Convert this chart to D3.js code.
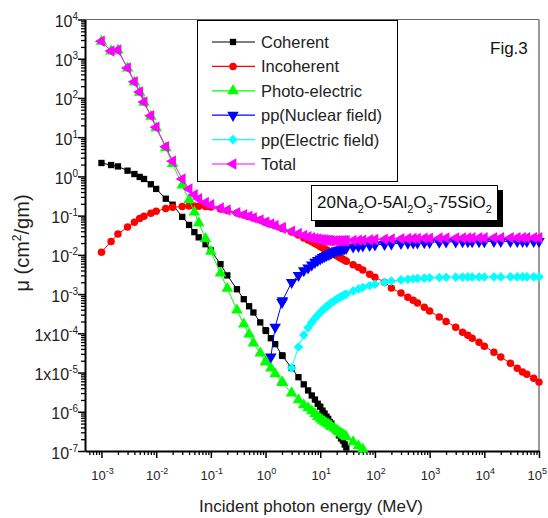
<!DOCTYPE html>
<html>
<head>
<meta charset="utf-8">
<script src="https://cdn.jsdelivr.net/npm/d3@7"></script>
<style>
  body { margin: 0; background: #fff; }
  svg { font-family: "Liberation Sans", Arial, sans-serif; }
</style>
</head>
<body>
<svg id="chart" width="548" height="518"></svg>
<script>
// photon energies (MeV)
const energy = [1e-3, 1.5e-3, 2e-3, 3e-3, 4e-3, 5e-3, 6e-3, 8e-3, 1e-2, 1.5e-2,
  2e-2, 3e-2, 4e-2, 5e-2, 6e-2, 8e-2, 0.1, 0.15, 0.2, 0.3,
  0.4, 0.5, 0.6, 0.8, 1, 1.022, 1.25, 1.5, 2, 2.044,
  3, 4, 5, 6, 7, 8, 9, 10, 11, 12,
  13, 14, 15, 16, 18, 20, 22, 24, 26, 28,
  30, 40, 50, 60, 80, 100, 150, 200, 300, 400,
  500, 600, 800, 1000, 1500, 2000, 3000, 4000, 5000, 6000,
  8000, 1e4, 1.5e4, 2e4, 3e4, 4e4, 5e4, 6e4, 8e4, 1e5];

const coherent = [2.2, 1.95, 1.8, 1.4, 1.15, 0.97, 0.86, 0.63, 0.48, 0.27,
  0.19, 0.093, 0.058, 0.038, 0.028, 0.0187, 0.013, 0.0058, 0.0030, 0.00133,
  7.4e-4, 4.9e-4, 3.4e-4, 1.9e-4, 1.2e-4, 1.15e-4, 7.5e-5, 5.3e-5, 2.75e-5, 2.65e-5,
  1.3e-5, 7.6e-6, 5.0e-6, 3.5e-6, 2.6e-6, 2.05e-6, 1.6e-6, 1.35e-6, 1.07e-6, 9e-7,
  7.5e-7, 6.6e-7, 5.5e-7, 5.0e-7, 3.8e-7, 3.2e-7, 2.5e-7, 2.1e-7, 1.85e-7, 1.47e-7,
  1.23e-7];

const incoherent = [0.0117, 0.022, 0.034, 0.051, 0.068, 0.085, 0.097, 0.115, 0.13, 0.152,
  0.163, 0.172, 0.175, 0.175, 0.174, 0.170, 0.165, 0.148, 0.135, 0.117,
  0.104, 0.095, 0.088, 0.077, 0.068, 0.067, 0.061, 0.056, 0.048, 0.047,
  0.038, 0.032, 0.027, 0.024, 0.0215, 0.0195, 0.0178, 0.0163, 0.0152, 0.0142,
  0.0133, 0.0125, 0.0118, 0.0112, 0.0102, 0.0095, 0.0088, 0.0082, 0.0077, 0.0073,
  0.0069, 0.0056, 0.0048, 0.0041, 0.0032, 0.0027, 0.0020, 0.00142, 0.00106, 0.00083,
  0.00070, 0.00059, 0.00046, 0.00037, 0.00026, 0.00020, 1.43e-4, 1.07e-4, 8.9e-5, 7.5e-5,
  5.9e-5, 4.7e-5, 3.3e-5, 2.5e-5, 1.73e-5, 1.29e-5, 1.03e-5, 9.0e-6, 7.2e-6, 5.7e-6];

const photoElectric = [2750, 1570, 1650, 575, 253, 138, 77, 34, 17.3, 5.3,
  2.1, 0.60, 0.25, 0.123, 0.065, 0.026, 0.0123, 0.0034, 0.0014, 3.9e-4,
  1.7e-4, 9.5e-5, 5.6e-5, 3.1e-5, 1.9e-5, 1.85e-5, 1.3e-5, 9.2e-6, 5.8e-6, 5.5e-6,
  3.0e-6, 2.0e-6, 1.5e-6, 1.25e-6, 1.05e-6, 9e-7, 7.5e-7, 6.6e-7, 6.0e-7, 5.5e-7,
  5.1e-7, 4.8e-7, 4.5e-7, 4.2e-7, 3.8e-7, 3.4e-7, 3.1e-7, 2.85e-7, 2.65e-7, 2.45e-7,
  2.3e-7, 1.7e-7, 1.35e-7, 1.12e-7];

const ppNuclear = [null, null, null, null, null, null, null, null, null, null,
  null, null, null, null, null, null, null, null, null, null,
  null, null, null, null, null, null, 2.5e-5, 1.45e-4, 6.2e-4, 6.8e-4,
  2.0e-3, 3.0e-3, 4.0e-3, 4.7e-3, 5.6e-3, 6.5e-3, 7.3e-3, 7.9e-3, 8.6e-3, 9.2e-3,
  9.7e-3, 1.03e-2, 1.06e-2, 1.12e-2, 1.2e-2, 1.28e-2, 1.32e-2, 1.36e-2, 1.4e-2, 1.45e-2,
  1.5e-2, 1.6e-2, 1.65e-2, 1.7e-2, 1.76e-2, 1.8e-2, 1.86e-2, 1.9e-2, 1.97e-2, 2.0e-2,
  2.02e-2, 2.04e-2, 2.07e-2, 2.09e-2, 2.12e-2, 2.14e-2, 2.16e-2, 2.17e-2, 2.18e-2, 2.18e-2,
  2.19e-2, 2.19e-2, 2.2e-2, 2.2e-2, 2.2e-2, 2.21e-2, 2.21e-2, 2.21e-2, 2.21e-2, 2.21e-2];

const ppElectric = [null, null, null, null, null, null, null, null, null, null,
  null, null, null, null, null, null, null, null, null, null,
  null, null, null, null, null, null, null, null, null, null,
  1.3e-5, 4.5e-5, 9e-5, 1.4e-4, 1.9e-4, 2.4e-4, 2.9e-4, 3.4e-4, 3.9e-4, 4.3e-4,
  4.8e-4, 5.2e-4, 5.6e-4, 6.0e-4, 6.7e-4, 7.4e-4, 8.0e-4, 8.6e-4, 9.1e-4, 9.6e-4,
  1.0e-3, 1.2e-3, 1.35e-3, 1.47e-3, 1.65e-3, 1.78e-3, 2.0e-3, 2.15e-3, 2.3e-3, 2.4e-3,
  2.45e-3, 2.5e-3, 2.55e-3, 2.6e-3, 2.65e-3, 2.68e-3, 2.7e-3, 2.71e-3, 2.72e-3, 2.72e-3,
  2.73e-3, 2.73e-3, 2.74e-3, 2.74e-3, 2.75e-3, 2.75e-3, 2.75e-3, 2.75e-3, 2.75e-3, 2.75e-3];

const total = [2800, 1580, 1660, 580, 257, 141, 79, 35, 18, 5.7,
  2.45, 0.86, 0.48, 0.34, 0.27, 0.215, 0.19, 0.157, 0.139, 0.118,
  0.105, 0.096, 0.088, 0.077, 0.068, 0.067, 0.061, 0.056, 0.049, 0.048,
  0.040, 0.035, 0.031, 0.0288, 0.0272, 0.026, 0.0252, 0.0245, 0.0241, 0.0238,
  0.0235, 0.0233, 0.0231, 0.0230, 0.0229, 0.0229, 0.0228, 0.0228, 0.0228, 0.0229,
  0.0229, 0.0232, 0.0235, 0.0237, 0.0241, 0.0245, 0.025, 0.0254, 0.0257, 0.0259,
  0.0261, 0.0262, 0.0264, 0.0265, 0.0267, 0.0268, 0.0269, 0.027, 0.027, 0.0271,
  0.0271, 0.0271, 0.0272, 0.0272, 0.0273, 0.0273, 0.0273, 0.0273, 0.0273, 0.0273];

const seriesNames = ["Coherent", "Incoherent", "Photo-electric", "pp(Nuclear field)", "pp(Electric field)", "Total"];

// tick labels
const xTickExp = ["-3", "-2", "-1", "0", "1", "2", "3", "4", "5"];
const yTickBase = ["10", "10", "10", "10", "10", "10", "10", "10", "1x10", "1x10", "10", "10"];
const yTickExp = ["4", "3", "2", "1", "0", "-1", "-2", "-3", "-4", "-5", "-6", "-7"];

let chart = d3.select("#chart");

// scales
let x = d3.scaleLog().domain([5e-4, 1e5]).range([85, 539]);
let y = d3.scaleLog().domain([1e-7, 1e4]).range([451, 19.5]);

// frame (top & right)
chart.append("line").attr("x1", 85).attr("y1", 19.5).attr("x2", 539).attr("y2", 19.5)
  .attr("stroke", "#666").attr("stroke-width", 1.2);
chart.append("line").attr("x1", 539).attr("y1", 19.5).attr("x2", 539).attr("y2", 451)
  .attr("stroke", "#777").attr("stroke-width", 1.5);

// minor tick values
let xMinor = [], yMinor = [];
for (let d = -4; d <= 4; d++) for (let m = 2; m <= 9; m++) {
  let v = m * Math.pow(10, d);
  if (v > 5e-4 && v < 1e5) xMinor.push(v);
}
for (let d = -7; d <= 3; d++) for (let m = 2; m <= 9; m++) yMinor.push(m * Math.pow(10, d));
let xMajor = xTickExp.map(e => Math.pow(10, +e));
let yMajor = yTickExp.map(e => Math.pow(10, +e));

// x axis
chart.append("g").attr("transform", "translate(0,451)")
  .call(d3.axisBottom(x).tickValues(xMinor).tickSize(4).tickSizeOuter(0).tickFormat(""))
  .call(g => g.select(".domain").remove())
  .selectAll("line").attr("stroke-width", 1.3);
chart.append("g").attr("class", "axis").attr("transform", "translate(0,451)")
  .call(d3.axisBottom(x).tickValues(xMajor).tickSize(7).tickSizeOuter(0).tickFormat(""))
  .call(g => g.select(".domain").attr("stroke-width", 2))
  .selectAll("line").attr("stroke-width", 1.5);

// y axis
chart.append("g").attr("transform", "translate(85,0)")
  .call(d3.axisLeft(y).tickValues(yMinor).tickSize(4).tickSizeOuter(0).tickFormat(""))
  .call(g => g.select(".domain").remove())
  .selectAll("line").attr("stroke-width", 1.3);
chart.append("g").attr("class", "axis").attr("transform", "translate(85,0)")
  .call(d3.axisLeft(y).tickValues(yMajor).tickSize(7).tickSizeOuter(0).tickFormat(""))
  .call(g => g.select(".domain").attr("stroke-width", 2))
  .selectAll("line").attr("stroke-width", 1.5);

// x tick labels (last one kept inside the page)
xTickExp.forEach((e, i) => {
  let last = i === xTickExp.length - 1;
  let t = chart.append("text")
    .attr("x", last ? 547 : x(xMajor[i]) + 1).attr("y", 480)
    .attr("text-anchor", last ? "end" : "middle").style("font-size", "13px").attr("fill", "#222");
  t.append("tspan").text("10");
  t.append("tspan").attr("dy", -6).style("font-size", "9px").text(e);
});

// y tick labels
yTickExp.forEach((e, i) => {
  let t = chart.append("text")
    .attr("x", 78).attr("y", y(yMajor[i]) + 7.5)
    .attr("text-anchor", "end").style("font-size", "16px").attr("fill", "#222");
  t.append("tspan").text(yTickBase[i]);
  t.append("tspan").attr("dy", -7).style("font-size", "10px").text(e);
});

// axis titles
chart.append("text")
  .text("Incident photon energy (MeV)")
  .attr("x", 311).attr("y", 512)
  .attr("text-anchor", "middle").style("font-size", "17px").attr("fill", "#222");

let yt = chart.append("text")
  .attr("transform", "translate(29,243) rotate(-90)")
  .attr("text-anchor", "middle").style("font-size", "20px").attr("fill", "#222");
yt.append("tspan").text("\u03bc (cm");
yt.append("tspan").attr("dy", -8).style("font-size", "12px").text("2");
yt.append("tspan").attr("dy", 8).text("/gm)");

// series styles
let triSize = 58;
const styles = [
  { values: coherent, color: "#000000", type: d3.symbolSquare, size: 40, rot: 0 },
  { values: incoherent, color: "#ff0000", type: d3.symbolCircle, size: 44, rot: 0 },
  { values: photoElectric, color: "#00ff00", type: d3.symbolTriangle, size: triSize, rot: 0 },
  { values: ppNuclear, color: "#0000ff", type: d3.symbolTriangle, size: triSize, rot: 180 },
  { values: ppElectric, color: "#00ffff", type: d3.symbolSquare, size: 46, rot: 45 },
  { values: total, color: "#ff00ff", type: d3.symbolTriangle, size: triSize, rot: -90 }
];

let line = d3.line().x(d => x(d[0])).y(d => y(d[1]));

styles.forEach(s => {
  let pts = energy.map((e, i) => [e, s.values[i]])
    .filter(d => d[1] != null && d[1] >= 1e-7);
  chart.append("path")
    .datum(pts)
    .attr("fill", "none")
    .attr("stroke", s.color)
    .attr("stroke-width", 1)
    .attr("d", line);
  chart.append("g").selectAll("path")
    .data(pts).enter().append("path")
    .attr("d", d3.symbol().type(s.type).size(s.size))
    .attr("transform", d => "translate(" + x(d[0]) + "," + y(d[1]) + ") rotate(" + s.rot + ")")
    .attr("fill", s.color);
});

// LEGEND
chart.append("rect")
  .attr("x", 197.5).attr("y", 20.5).attr("width", 200).attr("height", 161)
  .attr("fill", "#fff").attr("stroke", "#000").attr("stroke-width", 1);
styles.forEach((s, i) => {
  let ly = 42 + i * 24.4;
  chart.append("line").attr("x1", 212).attr("x2", 255).attr("y1", ly).attr("y2", ly)
    .attr("stroke", s.color).attr("stroke-width", 1.2);
  chart.append("path")
    .attr("d", d3.symbol().type(s.type).size(s.size))
    .attr("transform", "translate(233," + ly + ") rotate(" + s.rot + ")")
    .attr("fill", s.color);
  chart.append("text")
    .text(seriesNames[i])
    .attr("x", 261).attr("y", ly + 6)
    .style("font-size", "16.5px").attr("fill", "#222");
});

// composition box with shadow
chart.append("rect").attr("x", 315).attr("y", 190).attr("width", 188).attr("height", 37).attr("fill", "#000");
chart.append("rect").attr("x", 311.5).attr("y", 185.5).attr("width", 186).attr("height", 35)
  .attr("fill", "#fff").attr("stroke", "#000").attr("stroke-width", 1);
let comp = chart.append("text").attr("x", 317).attr("y", 208)
  .style("font-size", "17px").attr("fill", "#111");
[["20Na", 0], ["2", 1], ["O-5Al", 0], ["2", 1], ["O", 0], ["3", 1], ["-75SiO", 0], ["2", 1]]
  .reduce((prev, p) => {
    comp.append("tspan").attr("dy", p[1] - prev === 0 ? 0 : (p[1] ? 5 : -5))
      .style("font-size", p[1] ? "11px" : "17px").text(p[0]);
    return p[1];
  }, 0);

// figure label
chart.append("text").text("Fig.3")
  .attr("x", 490).attr("y", 54)
  .style("font-size", "17px").attr("fill", "#111");
</script>
</body>
</html>
